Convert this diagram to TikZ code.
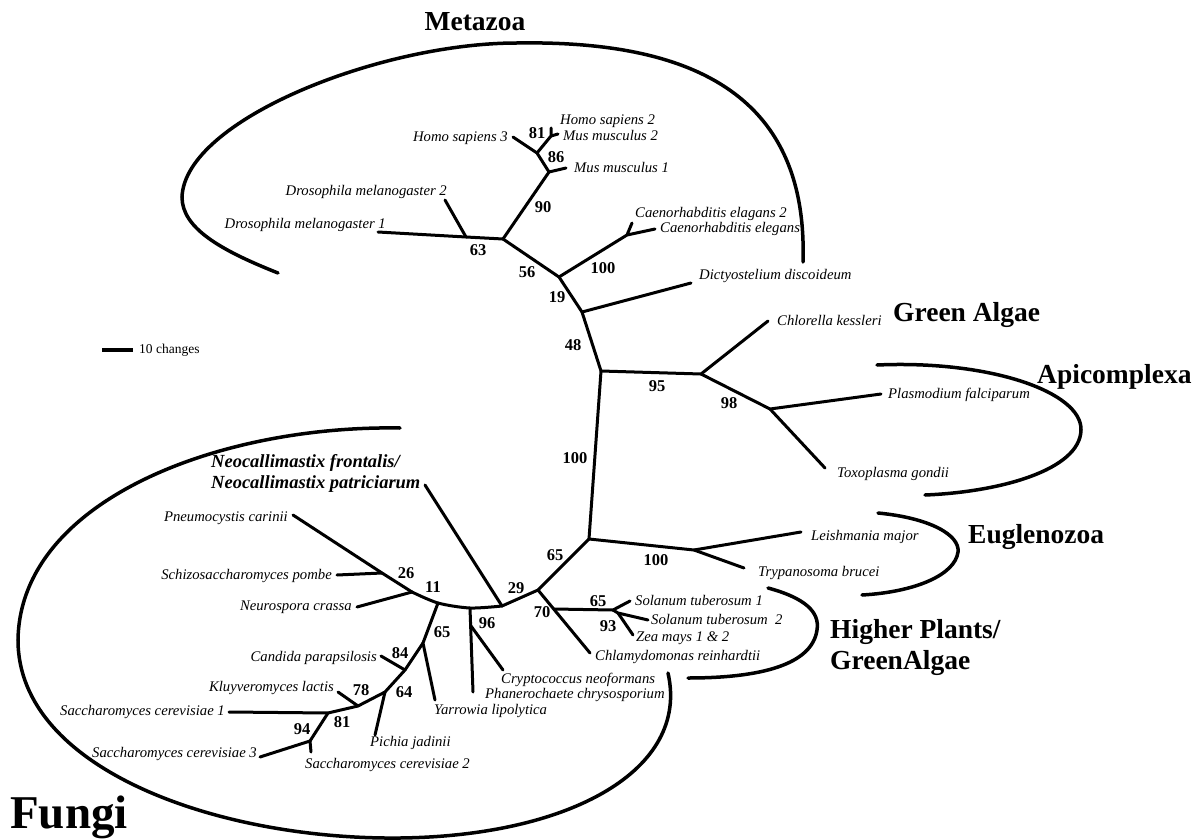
\documentclass[tikz,border=0pt]{standalone}
\usepackage{fontspec}
\setmainfont{Liberation Serif}
\begin{document}
\begin{tikzpicture}[x=1pt,y=-1pt]
\tikzset{
  br/.style={line width=3pt, line cap=round, line join=round},
  grpline/.style={line width=3.5pt, line cap=round},
  sp/.style={font=\fontsize{14.7}{15}\selectfont\itshape, inner sep=0pt},
  spb/.style={font=\fontsize{18.5}{19}\selectfont\bfseries\itshape, inner sep=0pt},
  bs/.style={font=\fontsize{16.5}{17}\selectfont\bfseries, inner sep=0pt},
  grp/.style={font=\fontsize{27.5}{28}\selectfont\bfseries, inner sep=0pt},
}
\useasboundingbox (0,0) rectangle (1194,840);
\fill[white] (0,0) rectangle (1194,840);

% ---------- coordinates of the tree ----------
\coordinate (ths3) at (513,137);
\coordinate (nhs) at (537,153);
\coordinate (n81) at (551,136);
\coordinate (ths2) at (551,128);
\coordinate (tmm2) at (558,134);
\coordinate (n86) at (549,172);
\coordinate (tmm1) at (566,168);
\coordinate (n90) at (503,239);
\coordinate (n63) at (466,237);
\coordinate (tdm2) at (445,200);
\coordinate (tdm1) at (378,232);
\coordinate (n56) at (559,277);
\coordinate (nce) at (627,235);
\coordinate (tce2) at (632,223);
\coordinate (tce) at (655,229);
\coordinate (n19) at (582,312);
\coordinate (tdd) at (691,283);
\coordinate (n48) at (601,371);
\coordinate (n95) at (701,374);
\coordinate (tck) at (768,321);
\coordinate (n98) at (770,409);
\coordinate (tpf) at (881,394);
\coordinate (ttg) at (825,468);
\coordinate (n65u) at (589,539);
\coordinate (neu) at (694,550);
\coordinate (tlm) at (801,532);
\coordinate (ttb) at (744,568);
\coordinate (n70) at (538,590);
\coordinate (n29) at (502,606);
\coordinate (npl) at (554,609);
\coordinate (tcr) at (590,653);
\coordinate (nsol) at (613,610);
\coordinate (tst1) at (630,601);
\coordinate (n93) at (618,613);
\coordinate (tst2) at (648,620);
\coordinate (tzm) at (633,635);
\coordinate (tneo) at (425,485);
\coordinate (n96) at (470,608);
\coordinate (n96b) at (471,626);
\coordinate (tph) at (473,692);
\coordinate (tcn) at (503,670);
\coordinate (n65f) at (438,603);
\coordinate (n11) at (412,592);
\coordinate (n26) at (382,573);
\coordinate (tpn) at (293,515);
\coordinate (tsp) at (337,575);
\coordinate (tnc) at (357,607);
\coordinate (ny) at (423,643);
\coordinate (tyl) at (435,700);
\coordinate (n84) at (405,670);
\coordinate (tcp) at (381,656);
\coordinate (n64) at (385,692);
\coordinate (tpj) at (375,735);
\coordinate (n78) at (358,706);
\coordinate (tkl) at (338,692);
\coordinate (n81f) at (328,713);
\coordinate (tsc1) at (229,712);
\coordinate (n94) at (310,741);
\coordinate (tsc3) at (260,757);
\coordinate (tsc2) at (311,752);
\coordinate (sba) at (102,350);
\coordinate (sbb) at (133,350);

% ---------- branches ----------
\draw[br] (ths3) -- (nhs) -- (n86) -- (n90);
\draw[br] (nhs) -- (n81) -- (ths2);
\draw[br] (n81) -- (tmm2);
\draw[br] (n86) -- (tmm1);
\draw[br] (n90) -- (n63) -- (tdm1);
\draw[br] (n63) -- (tdm2);
\draw[br] (n90) -- (n56) -- (n19) -- (n48) -- (n65u);
\draw[br] (n56) -- (nce) -- (tce);
\draw[br] (nce) -- (tce2);
\draw[br] (n19) -- (tdd);
\draw[br] (n48) -- (n95) -- (tck);
\draw[br] (n95) -- (n98) -- (tpf);
\draw[br] (n98) -- (ttg);
\draw[br] (n65u) -- (neu) -- (tlm);
\draw[br] (neu) -- (ttb);
\draw[br] (n65u) -- (n70) -- (n29);
\draw[br] (n70) -- (tcr);
\draw[br] (npl) -- (nsol) -- (tst1);
\draw[br] (nsol) -- (n93) -- (tst2);
\draw[br] (n93) -- (tzm);
\draw[br] (tneo) -- (n29);
\draw[br] plot[smooth] coordinates {(n29) (n96) (n65f) (n11)};
\draw[br] (n11) -- (tnc);
\draw[br] (n11) -- (n26) -- (tpn);
\draw[br] (n26) -- (tsp);
\draw[br] (n96) -- (tph);
\draw[br] (n96b) -- (tcn);
\draw[br] (n65f) -- (ny) -- (tyl);
\draw[br] (ny) -- (n84) -- (n64) -- (n78) -- (n81f) -- (n94) -- (tsc3);
\draw[br] (n84) -- (tcp);
\draw[br] (n64) -- (tpj);
\draw[br] (n78) -- (tkl);
\draw[br] (n81f) -- (tsc1);
\draw[br] (n94) -- (tsc2);
\draw[line width=3.5pt] (sba) -- (sbb);

% ---------- group curves ----------
\draw[grpline] (278,273) .. controls (220,250) and (182,228) .. (182,197)
  .. controls (185,120) and (380,43) .. (517,43)
  .. controls (700,40) and (808,100) .. (803,262);
\draw[grpline] (877,365) .. controls (990,360) and (1082,392) .. (1081,430)
  .. controls (1080,470) and (1000,492) .. (925,495);
\draw[grpline] (878,513) .. controls (930,518) and (960,535) .. (958,552)
  .. controls (955,575) and (915,592) .. (862,595);
\draw[grpline] (768,588) .. controls (805,598) and (820,612) .. (817,630)
  .. controls (812,665) and (760,678) .. (688,678);
\draw[grpline] (400,428) .. controls (220,425) and (20,500) .. (18,640)
  .. controls (18,770) and (220,840) .. (400,838)
  .. controls (570,836) and (690,770) .. (668,673);

% ---------- group titles ----------
\node[grp] (gmet) at (475,22) {Metazoa};
\node[grp, anchor=west] (ggreen) at (893,315) {Green Algae};
\node[grp, anchor=west] (gapi) at (1037,377) {Apicomplexa};
\node[grp, anchor=west] (geug) at (968,537) {Euglenozoa};
\node[grp, anchor=west] (ghp1) at (830,632) {Higher Plants/};
\node[grp, anchor=west] (ghp2) at (830,663) {GreenAlgae};
\node[font=\fontsize{47}{47}\selectfont\bfseries, inner sep=0pt, anchor=base west] (gfun) at (10,828) {Fungi};
\node[font=\fontsize{13.5}{14}\selectfont, inner sep=0pt, anchor=west] (sbl) at (139,350) {10 changes};

% ---------- species ----------
\node[sp, anchor=west] (l1) at (560,121) {Homo sapiens 2};
\node[sp, anchor=west] (l2) at (563,135) {Mus musculus 2};
\node[sp, anchor=east] (l3) at (508,138) {Homo sapiens 3};
\node[sp, anchor=west] (l4) at (574,167) {Mus musculus 1};
\node[sp, anchor=east] (l5) at (447,192) {Drosophila melanogaster 2};
\node[sp, anchor=east] (l6) at (386,225) {Drosophila melanogaster 1};
\node[sp, anchor=west] (l7) at (635,214) {Caenorhabditis elagans 2};
\node[sp, anchor=west] (l8) at (660,229) {Caenorhabditis elegans};
\node[sp, anchor=west] (l9) at (699,276) {Dictyostelium discoideum};
\node[sp, anchor=west] (l10) at (777,320) {Chlorella kessleri};
\node[sp, anchor=west] (l11) at (888,395) {Plasmodium falciparum};
\node[sp, anchor=west] (l12) at (837,474) {Toxoplasma gondii};
\node[sp, anchor=west] (l13) at (811,537) {Leishmania major};
\node[sp, anchor=west] (l14) at (758,573) {Trypanosoma brucei};
\node[sp, anchor=west] (l15) at (635,600) {Solanum tuberosum 1};
\node[sp, anchor=west] (l16) at (651,619) {Solanum tuberosum\ \ 2};
\node[sp, anchor=west] (l17) at (636,638) {Zea mays 1 \& 2};
\node[sp, anchor=west] (l18) at (595,657) {Chlamydomonas reinhardtii};
\node[sp, anchor=west] (l19) at (501,680) {Cryptococcus neoformans};
\node[sp, anchor=west] (l20) at (485,695) {Phanerochaete chrysosporium};
\node[sp, anchor=west] (l21) at (434,711) {Yarrowia lipolytica};
\node[sp, anchor=west] (l22) at (370,743) {Pichia jadinii};
\node[sp, anchor=west] (l23) at (305,765) {Saccharomyces cerevisiae 2};
\node[sp, anchor=east] (l24) at (257,754) {Saccharomyces cerevisiae 3};
\node[sp, anchor=east] (l25) at (225,712) {Saccharomyces cerevisiae 1};
\node[sp, anchor=east] (l26) at (334,688) {Kluyveromyces lactis};
\node[sp, anchor=east] (l27) at (377,658) {Candida parapsilosis};
\node[sp, anchor=east] (l28) at (352,607) {Neurospora crassa};
\node[sp, anchor=east] (l29) at (332,576) {Schizosaccharomyces pombe};
\node[sp, anchor=east] (l30) at (288,518) {Pneumocystis carinii};
\node[spb, anchor=west] (l31) at (211,463) {Neocallimastix frontalis/};
\node[spb, anchor=west] (l32) at (211,484) {Neocallimastix patriciarum};

% ---------- bootstrap values ----------
\node[bs] (b1) at (537,133) {81};
\node[bs] (b2) at (556,157) {86};
\node[bs] (b3) at (543,207) {90};
\node[bs] (b4) at (478,250) {63};
\node[bs] (b5) at (527,272) {56};
\node[bs] (b6) at (603,268) {100};
\node[bs] (b7) at (557,297) {19};
\node[bs] (b8) at (573,345) {48};
\node[bs] (b9) at (657,386) {95};
\node[bs] (b10) at (729,403) {98};
\node[bs] (b11) at (575,458) {100};
\node[bs] (b12) at (656,560) {100};
\node[bs] (b13) at (555,555) {65};
\node[bs] (b14) at (516,588) {29};
\node[bs] (b15) at (542,612) {70};
\node[bs] (b16) at (598,601) {65};
\node[bs] (b17) at (608,626) {93};
\node[bs] (b18) at (487,623) {96};
\node[bs] (b19) at (433,587) {11};
\node[bs] (b20) at (406,573) {26};
\node[bs] (b21) at (442,632) {65};
\node[bs] (b22) at (400,653) {84};
\node[bs] (b23) at (404,692) {64};
\node[bs] (b24) at (361,690) {78};
\node[bs] (b25) at (342,722) {81};
\node[bs] (b26) at (302,729) {94};
\end{tikzpicture}
\end{document}
